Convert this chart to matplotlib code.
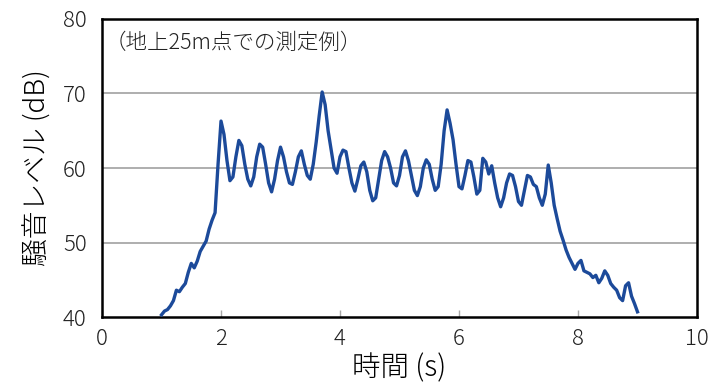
import matplotlib
matplotlib.use("Agg")
import matplotlib.pyplot as plt

plt.rcParams["font.family"] = ["Noto Sans CJK JP", "DejaVu Sans"]

time_s = [round(1.0 + 0.05 * i, 2) for i in range(161)]
level_db = [
    40.3, 40.8, 41.0, 41.5, 42.2, 43.6, 43.4, 44.0, 44.5, 46.0,
    47.2, 46.6, 47.5, 48.8, 49.5, 50.2, 51.8, 53.0, 54.0, 60.5,
    66.3, 64.5, 61.0, 58.3, 58.8, 61.5, 63.7, 63.0, 60.5, 58.5,
    57.6, 58.8, 61.5, 63.2, 62.8, 60.5, 58.0, 56.8, 58.5, 61.0,
    62.8, 61.5, 59.5, 58.0, 57.8, 59.5, 61.5, 62.3, 60.5, 59.0,
    58.5, 60.5, 63.5, 67.0, 70.2, 68.5, 65.0, 62.5, 60.0, 59.3,
    61.5, 62.4, 62.2, 60.0, 58.0, 56.9, 58.5, 60.3, 60.8, 59.5,
    57.0, 55.6, 56.0, 58.5, 61.0, 62.2, 61.5, 60.0, 58.0, 57.6,
    59.0, 61.5, 62.3, 61.0, 59.0, 57.0, 56.3, 57.5, 60.0, 61.1,
    60.5, 58.5, 57.0, 57.5, 60.5, 65.0, 67.8, 66.0, 63.8, 60.5,
    57.5, 57.2, 59.0, 61.0, 60.8, 58.8, 56.5, 57.0, 61.3, 60.8,
    59.2, 60.3, 58.0, 56.0, 54.8, 56.0, 58.0, 59.2, 59.0, 57.5,
    55.5, 55.0, 57.0, 59.0, 58.8, 57.8, 57.5, 56.0, 55.0, 56.5,
    60.4, 58.0, 55.0, 53.2, 51.5, 50.3, 49.0, 48.0, 47.2, 46.4,
    47.2, 47.6, 46.2, 46.0, 45.8, 45.3, 45.6, 44.6, 45.2, 46.2,
    45.6, 44.5, 44.0, 43.6, 42.6, 42.2, 44.2, 44.6, 42.8, 41.8,
    40.7,
]

x_ticks = [0, 2, 4, 6, 8, 10]
y_ticks = [40, 50, 60, 70, 80]
x_label = "時間 (s)"
y_label = "騒音レベル (dB)"
note = "（地上25m点での測定例）"


def main() -> None:
    fig = plt.figure(figsize=(7.12, 3.89), dpi=100)
    ax = fig.add_axes([0.1433, 0.185, 0.8356, 0.7662])

    for y in y_ticks[1:-1]:
        ax.axhline(y, color="#a8a8a8", linewidth=1.3, zorder=1)

    ax.plot(time_s, level_db, color="#1c4a9a", linewidth=2.4, zorder=3)

    ax.set_xlim(0, 10)
    ax.set_ylim(40, 80)
    ax.set_xticks(x_ticks)
    ax.set_yticks(y_ticks)
    ax.tick_params(axis="x", direction="in", length=5, width=1.0, color="#a8a8a8",
                   labelsize=16, pad=8, labelcolor="#222222")
    ax.tick_params(axis="y", length=0, labelsize=16, pad=11, labelcolor="#222222")
    for label in ax.get_xticklabels() + ax.get_yticklabels():
        label.set_fontweight("light")
    for spine in ax.spines.values():
        spine.set_linewidth(1.8)
        spine.set_color("black")

    ax.set_xlabel(x_label, fontsize=20.5, labelpad=2, fontweight="light")
    ax.set_ylabel(y_label, fontsize=20, labelpad=8, fontweight="light")
    ax.text(0.004, 0.92, note, transform=ax.transAxes, fontsize=15.5,
            ha="left", va="center", color="#222222", fontweight="light")

    fig.savefig("out.png", dpi=100)
    plt.close(fig)


if __name__ == "__main__":
    main()
